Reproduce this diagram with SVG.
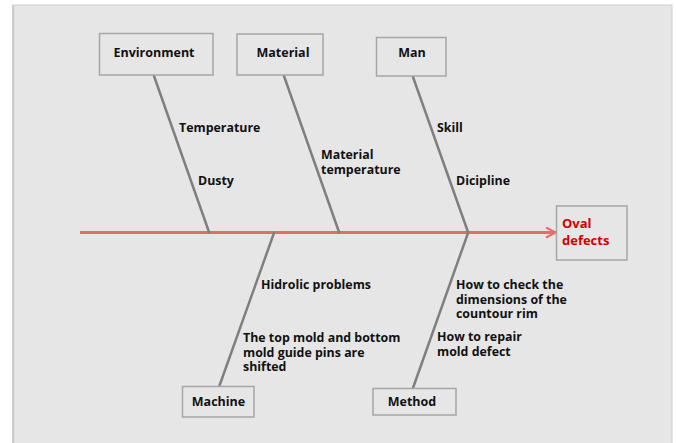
<svg xmlns="http://www.w3.org/2000/svg" width="676" height="443" viewBox="0 0 676 443">
  <style>
    .box { fill: #e6e6e6; stroke: #a6a6a6; stroke-width: 1.5; }
    .bone { stroke: #7f7f7f; stroke-width: 2.5; fill: none; stroke-linecap: round; }
    .spine { stroke: #e46c6c; stroke-width: 3; fill: none; }
    text { font-family: "Open Sans", "Noto Sans", "Liberation Sans", sans-serif; font-weight: bold; font-size: 12.4px; fill: #111111; }
    .title { font-size: 12.5px; text-anchor: middle; }
    .effect { fill: #d40000; font-size: 13px; }
  </style>
  <defs>
    <marker id="chevron" viewBox="0 0 12 12" refX="11" refY="6" markerWidth="12" markerHeight="12" markerUnits="userSpaceOnUse" orient="auto">
      <path d="M1,1 L11,6 L1,11" fill="none" stroke="#e46c6c" stroke-width="2"/>
    </marker>
  </defs>

  <!-- canvas -->
  <rect x="0" y="0" width="676" height="443" fill="#ffffff"/>
  <rect x="12.5" y="5" width="659.5" height="445" fill="#e6e6e6" stroke="#d0d0d0" stroke-width="1"/>
  <line x1="13.5" y1="6" x2="13.5" y2="443" stroke="#c8c8c8" stroke-width="1.5"/>

  <!-- connectors -->
  <g id="connectors">
    <line class="spine" x1="80" y1="232.5" x2="556" y2="232.5" marker-end="url(#chevron)"/>
    <line class="bone" x1="154" y1="76" x2="209" y2="232"/>
    <line class="bone" x1="284" y1="76" x2="339" y2="232"/>
    <line class="bone" x1="413" y1="77" x2="468" y2="232"/>
    <line class="bone" x1="274" y1="233" x2="219" y2="387"/>
    <line class="bone" x1="468" y1="233" x2="413" y2="388"/>
  </g>

  <g id="environment">
    <rect class="box" x="99.5" y="33.5" width="113.5" height="41.5"/>
    <text class="title" x="154" y="56.5">Environment</text>
    <text x="179" y="132">Temperature</text>
    <text x="198" y="185">Dusty</text>
  </g>

  <g id="material">
    <rect class="box" x="237" y="34" width="86" height="41"/>
    <text class="title" x="283" y="56.5">Material</text>
    <text x="321" y="159">Material<tspan x="321" dy="14.5">temperature</tspan></text>
  </g>

  <g id="man">
    <rect class="box" x="376.5" y="37.5" width="69.5" height="38.5"/>
    <text class="title" x="412" y="56.5">Man</text>
    <text x="437" y="132">Skill</text>
    <text x="456" y="185">Dicipline</text>
  </g>

  <g id="oval-defects">
    <rect class="box" x="556.5" y="206" width="70.5" height="54"/>
    <text class="effect" x="562" y="228">Oval<tspan x="562" dy="17">defects</tspan></text>
  </g>

  <g id="machine">
    <rect class="box" x="182.5" y="386.5" width="71.5" height="30.5"/>
    <text class="title" x="218.5" y="406">Machine</text>
    <text x="261" y="289">Hidrolic problems</text>
    <text x="243" y="342.3">The top mold and bottom<tspan x="243" dy="14.2">mold guide pins are</tspan><tspan x="243" dy="14">shifted</tspan></text>
  </g>

  <g id="method">
    <rect class="box" x="373" y="388.5" width="83" height="26.5"/>
    <text class="title" x="412" y="406">Method</text>
    <text x="456" y="289">How to check the<tspan x="456" dy="14.5">dimensions of the</tspan><tspan x="456" dy="14.5">countour rim</tspan></text>
    <text x="437" y="341">How to repair<tspan x="437" dy="14.5">mold defect</tspan></text>
  </g>
</svg>
